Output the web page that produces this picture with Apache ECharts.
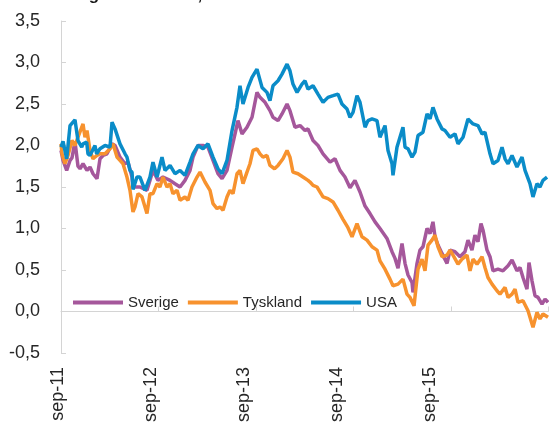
<!DOCTYPE html>
<html>
<head>
<meta charset="utf-8">
<script src="https://cdn.jsdelivr.net/npm/echarts@6/dist/echarts.min.js"></script>
<style>html,body{margin:0;padding:0;background:#fff}#c{width:549px;height:428px}</style>
</head>
<body>
<div id="c"></div>
<script>
// Months since Sep 2011 (0 = sep-11, 12 = sep-12, ...)
const tickLabels = ['sep-11', 'sep-12', 'sep-13', 'sep-14', 'sep-15'];
const seriesNames = ['Sverige', 'Tyskland', 'USA'];

const usaT = [0,0.25,0.7,1.11,1.72,2.09,2.55,2.71,3.16,3.32,3.57,4.18,4.39,4.8,5.42,5.66,6.03,6.28,6.4,6.65,7.26,7.88,8.12,8.49,8.74,8.86,9.35,9.72,10.34,10.95,11.32,11.82,12.43,12.8,13.42,14.03,14.65,15.26,15.88,16.25,16.86,17.48,18.09,18.71,19.32,19.82,20.43,21.05,21.66,22.03,22.4,23.02,23.51,24.12,24.74,25.35,25.72,26.09,26.71,27.2,27.82,28.18,28.55,29.05,29.66,30.03,30.4,31.02,31.63,32.25,32.86,33.48,34.09,34.58,35.2,35.57,35.94,36.43,36.8,37.42,37.78,38.28,38.89,39.26,39.88,40.25,40.74,40.86,41.35,41.72,42.09,42.34,42.71,43.2,43.57,43.94,44.55,45.05,45.42,45.78,46.28,46.89,47.26,47.88,48.49,48.86,49.48,50.09,50.71,51.32,51.82,52.18,52.8,53.17,53.78,54.28,54.65,55.02,55.51,56.12,56.74,57.11,57.72,58.09,58.58,58.95,59.32,59.82];
const usaV = [1.98,2.05,1.84,2.24,2.31,2.06,1.98,2.02,2.04,1.90,1.88,2.0,1.90,1.96,2.0,2.0,1.98,2.28,2.29,2.2,2.02,1.9,1.86,1.70,1.68,1.47,1.62,1.62,1.46,1.62,1.80,1.62,1.86,1.70,1.76,1.66,1.70,1.64,1.80,1.90,2.0,1.96,2.02,1.86,1.72,1.66,1.82,2.18,2.46,2.72,2.50,2.70,2.82,2.92,2.70,2.64,2.54,2.72,2.78,2.86,2.98,2.90,2.74,2.64,2.74,2.78,2.68,2.72,2.62,2.52,2.58,2.60,2.62,2.50,2.44,2.34,2.40,2.60,2.52,2.22,2.30,2.32,2.30,2.10,2.24,1.94,1.78,1.64,1.98,2.10,2.22,1.98,1.96,1.86,1.92,2.12,2.16,2.38,2.32,2.46,2.32,2.20,2.18,2.10,2.14,2.02,2.10,2.32,2.26,2.24,2.14,2.16,1.90,1.78,1.82,1.98,1.84,1.78,1.88,1.74,1.86,1.70,1.54,1.38,1.54,1.50,1.58,1.62];

const sverigeT = [0,0.25,0.7,1.11,1.35,1.72,2.09,2.34,2.71,3.2,3.57,3.94,4.43,4.8,5.17,5.66,6.28,6.65,7.26,7.88,8.25,8.74,8.86,9.72,10.58,11.32,11.94,12.55,13.42,14.03,14.65,15.26,15.88,16.25,16.86,17.48,18.09,18.71,19.32,19.82,20.43,21.05,21.42,21.78,22.28,22.89,23.51,24.12,24.49,25.11,25.72,26.09,26.71,27.2,27.82,28.18,28.8,29.42,30.03,30.4,31.02,31.63,32.25,33.11,33.72,34.34,34.95,35.57,36.18,36.8,37.42,38.03,38.65,39.26,40.12,40.74,41.11,41.48,41.97,42.34,42.71,43.2,43.32,43.82,44.18,44.55,45.05,45.42,45.78,46.03,46.4,46.89,47.51,47.88,48.49,49.11,49.72,50.09,50.58,50.95,51.32,51.69,51.94,52.43,52.8,53.17,53.78,54.4,55.02,55.51,56.12,56.49,56.86,57.35,57.6,57.97,58.34,58.71,59.2,59.57,59.94];
const sverigeV = [1.94,1.82,1.70,1.82,1.85,2.05,1.75,1.72,1.78,1.70,1.74,1.66,1.60,1.84,1.88,1.90,2.02,2.0,1.86,1.78,1.80,1.62,1.50,1.50,1.46,1.70,1.58,1.62,1.58,1.54,1.50,1.58,1.70,1.86,2.0,2.0,1.98,1.82,1.66,1.60,1.70,1.98,2.14,2.30,2.14,2.22,2.34,2.64,2.58,2.52,2.42,2.34,2.30,2.38,2.50,2.42,2.22,2.24,2.18,2.20,2.06,2.0,1.90,1.80,1.84,1.70,1.62,1.49,1.58,1.44,1.27,1.18,1.08,1.0,0.88,0.72,0.64,0.52,0.82,0.58,0.44,0.35,0.23,0.58,0.74,0.78,1.0,0.94,1.08,0.90,0.80,0.70,0.58,0.74,0.72,0.66,0.72,0.86,0.74,0.92,0.84,1.06,0.98,0.74,0.66,0.49,0.51,0.49,0.55,0.62,0.49,0.53,0.41,0.27,0.59,0.37,0.19,0.17,0.09,0.15,0.11];

const tysklandT = [0,0.12,0.49,0.86,1.35,1.72,2.09,2.71,2.95,3.2,3.57,3.94,4.43,4.8,5.42,6.03,6.4,6.89,7.26,7.63,8.12,8.49,8.86,9.11,9.48,9.97,10.58,10.95,11.32,11.82,12.18,12.55,13.05,13.42,13.78,14.28,14.65,15.26,15.63,16.12,16.74,17.11,17.72,18.34,18.71,19.2,19.57,19.94,20.43,20.8,21.17,21.66,22.03,22.4,22.89,23.26,23.63,24.12,24.49,24.86,25.35,25.72,26.28,26.71,27.32,27.82,28.18,28.55,29.17,29.78,30.4,30.65,31.02,31.51,32.25,32.86,33.48,34.09,34.71,35.32,35.82,36.43,37.05,37.66,38.28,38.89,39.26,39.88,40.49,40.86,41.48,42.09,42.58,42.95,43.45,43.94,44.43,44.8,45.17,45.66,46.03,46.4,46.89,47.51,47.88,48.25,48.86,49.35,49.97,50.34,50.71,51.2,51.82,52.18,52.55,53.05,53.66,54.03,54.65,55.02,55.51,55.88,56.25,56.86,57.48,58.09,58.58,58.95,59.32,59.94];
const tysklandV = [2.02,1.90,1.78,1.88,2.06,2.0,2.10,2.26,2.10,2.18,1.94,1.84,1.88,1.90,1.90,1.96,2.02,1.86,1.82,1.78,1.62,1.46,1.20,1.26,1.42,1.38,1.18,1.42,1.42,1.54,1.50,1.62,1.50,1.54,1.42,1.46,1.34,1.38,1.34,1.50,1.62,1.68,1.56,1.46,1.30,1.24,1.26,1.22,1.38,1.46,1.42,1.66,1.70,1.54,1.68,1.78,1.94,1.96,1.90,1.86,1.88,1.76,1.72,1.76,1.84,1.94,1.86,1.68,1.66,1.62,1.58,1.56,1.52,1.50,1.38,1.36,1.32,1.22,1.11,1.01,0.90,1.06,0.90,0.86,0.78,0.74,0.61,0.51,0.39,0.31,0.33,0.39,0.21,0.17,0.07,0.51,0.63,0.49,0.80,0.86,0.92,0.78,0.66,0.68,0.74,0.68,0.57,0.63,0.68,0.49,0.63,0.57,0.66,0.53,0.41,0.33,0.25,0.21,0.29,0.17,0.21,0.27,0.11,0.13,0.01,-0.19,-0.01,-0.09,-0.03,-0.07];

const yTicks = { min: -0.5, max: 3.5, interval: 0.5 };
const xRange = { min: 0, max: 60, interval: 12 };

function zip(t, v) { return t.map((x, i) => [x, v[i]]); }

const FONT = 'Arial, "Liberation Sans", sans-serif';
const colors = ['#A5579B', '#F7922E', '#0A8CC8'];

const chart = echarts.init(document.getElementById('c'), null, { renderer: 'canvas' });
chart.setOption({
  animation: false,
  backgroundColor: '#fff',
  title: {
    text: 'Statsobligationsräntor, 10 år',
    left: 12, top: -18,
    textStyle: { fontFamily: FONT, fontSize: 17, fontWeight: 'bold', color: '#1a1a1a' }
  },
  color: colors,
  legend: {
    data: seriesNames,
    left: 73, top: 295, padding: 0,
    itemWidth: 50, itemHeight: 4, itemGap: 9,
    icon: 'rect',
    textStyle: { fontFamily: FONT, fontSize: 15, color: '#262626', padding: [0, 0, 0, 0] }
  },
  grid: [
    { left: 61, right: 0.5, top: 21, bottom: 75, containLabel: false },
    { left: 58, width: 465, top: 21, bottom: 75, containLabel: false }
  ],
  xAxis: [
    {
      type: 'value', gridIndex: 0, min: xRange.min, max: xRange.max, interval: xRange.interval,
      axisLine: { onZero: true, lineStyle: { color: '#d4d4d4', width: 1 } },
      axisTick: { show: true, inside: true, length: 5, lineStyle: { color: '#d4d4d4' } },
      axisLabel: { show: false },
      splitLine: { show: false }
    },
    {
      type: 'value', gridIndex: 1, min: xRange.min, max: xRange.max, interval: xRange.interval,
      axisLine: { show: false, onZero: false }, axisTick: { show: false }, splitLine: { show: false },
      axisLabel: {
        rotate: 90, margin: 14, fontFamily: FONT, fontSize: 18, color: '#262626',
        formatter: v => tickLabels[Math.round(v / 12)] || ''
      }
    }
  ],
  yAxis: [
    {
      type: 'value', gridIndex: 0, min: yTicks.min, max: yTicks.max, interval: yTicks.interval,
      axisLine: { show: true, lineStyle: { color: '#d4d4d4' } },
      axisTick: { show: true, inside: true, length: 5, lineStyle: { color: '#d4d4d4' } },
      splitLine: { show: false },
      axisLabel: {
        margin: 21, fontFamily: FONT, fontSize: 18, color: '#262626',
        formatter: v => v.toFixed(1).replace('.', ',')
      }
    },
    { type: 'value', gridIndex: 1, min: yTicks.min, max: yTicks.max, show: false }
  ],
  series: [
    { name: seriesNames[0], type: 'line', data: zip(sverigeT, sverigeV), showSymbol: false, lineStyle: { width: 3.5 } },
    { name: seriesNames[1], type: 'line', data: zip(tysklandT, tysklandV), showSymbol: false, lineStyle: { width: 3.5 } },
    { name: seriesNames[2], type: 'line', data: zip(usaT, usaV), showSymbol: false, lineStyle: { width: 3.5 } }
  ]
});
</script>
</body>
</html>
